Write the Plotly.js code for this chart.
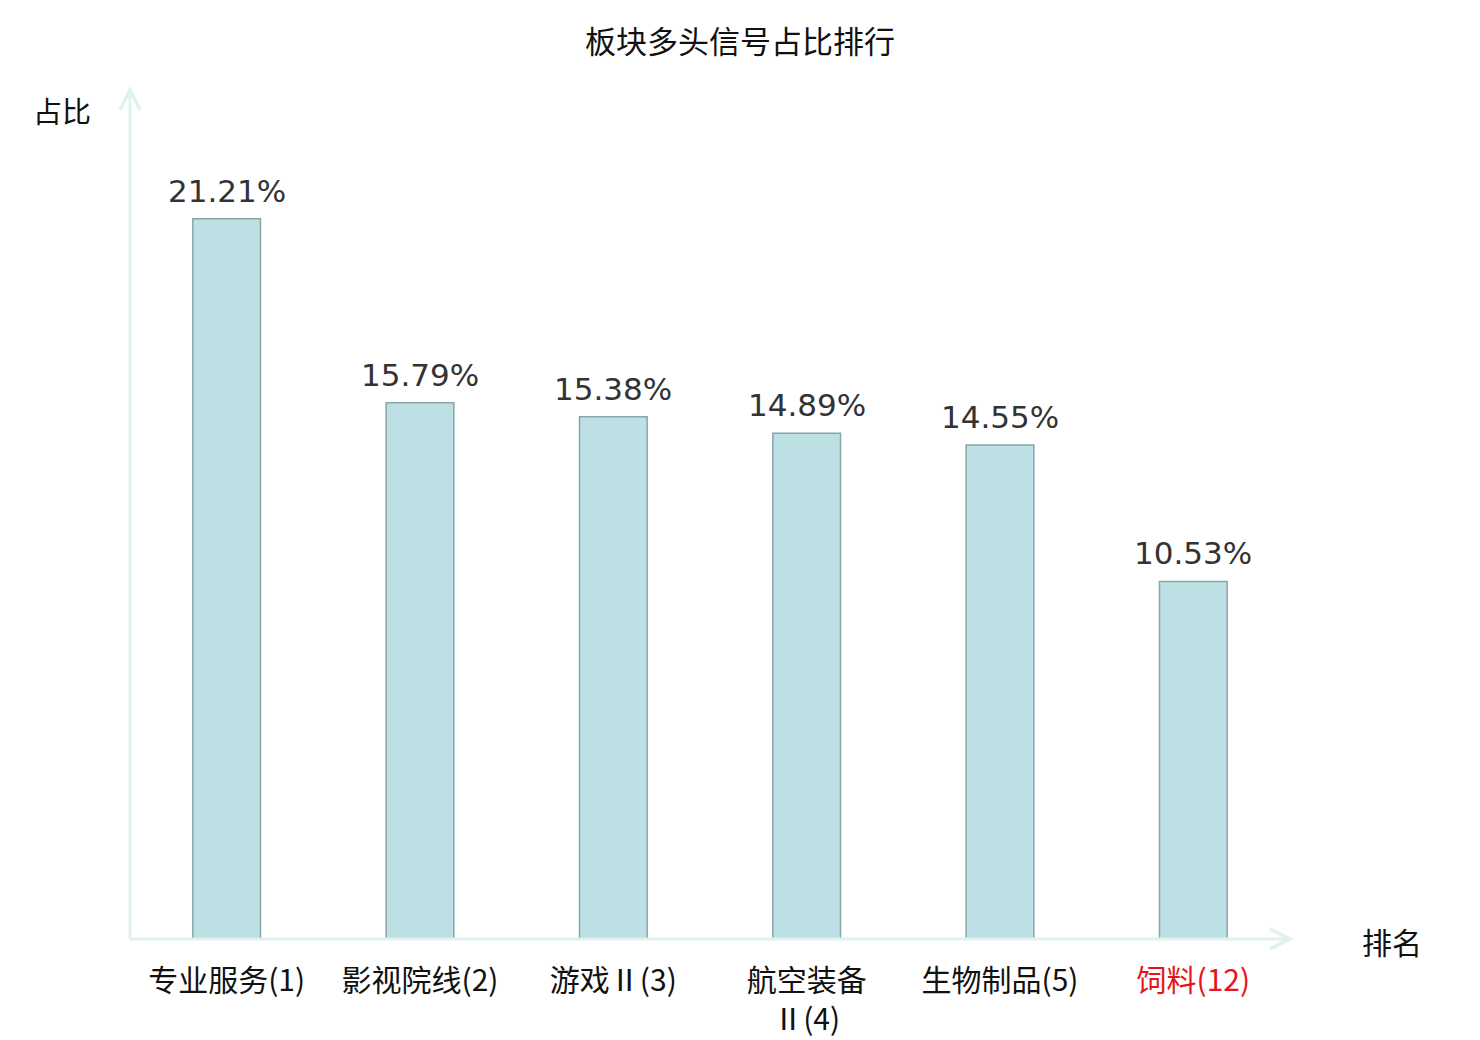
<!DOCTYPE html>
<html>
<head>
<meta charset="utf-8">
<script src="https://cdn.plot.ly/plotly-3.0.1.min.js"></script>
<style>
  html, body { margin: 0; padding: 0; background: #fff; }
  #chart { width: 1480px; height: 1040px; }
</style>
</head>
<body>
<div id="chart"></div>
<script>
// 数据
var categories = ['专业服务(1)', '影视院线(2)', '游戏Ⅱ(3)', '航空装备Ⅱ(4)', '生物制品(5)', '饲料(12)'];
var tickLabels = ['专业服务(1)', '影视院线(2)', '游戏Ⅱ(3)', '航空装备<br>Ⅱ(4)', '生物制品(5)', '<span style="color:#e8141b">饲料(12)</span>'];
var values = [21.21, 15.79, 15.38, 14.89, 14.55, 10.53];
var valueLabels = ['21.21%', '15.79%', '15.38%', '14.89%', '14.55%', '10.53%'];

var cjk = '"Noto Sans CJK SC", "DejaVu Sans", sans-serif';
var axisColor = '#dff2ef';

var bars = {
  x: categories,
  y: values,
  type: 'bar',
  marker: {
    color: '#bce0e3',
    line: { color: '#88a6a8', width: 1.5 }
  },
  hoverinfo: 'none'
};

// 数值标签
var annotations = [];
for (var i = 0; i < categories.length; i++) {
  annotations.push({
    x: categories[i],
    y: values[i],
    xref: 'x', yref: 'y',
    text: valueLabels[i],
    showarrow: false,
    yanchor: 'bottom',
    yshift: 8,
    font: { family: '"DejaVu Sans", sans-serif', size: 31, color: '#333333' }
  });
}
// 坐标轴名称
annotations.push({
  xref: 'paper', yref: 'paper', x: 0, y: 1,
  xanchor: 'right', yanchor: 'middle', xshift: -37, yshift: -20,
  text: '占比', showarrow: false,
  font: { family: cjk, size: 29, color: '#111' }
});
annotations.push({
  xref: 'paper', yref: 'paper', x: 1, y: 0,
  xanchor: 'left', yanchor: 'middle', xshift: 70, yshift: -2,
  text: '排名', showarrow: false,
  font: { family: cjk, size: 30, color: '#111' }
});

// 坐标轴箭头
var shapes = [
  { type: 'line', xref: 'paper', yref: 'paper', x0: 0, y0: 0, x1: 1, y1: 0,
    line: { color: axisColor, width: 3 } },
  { type: 'line', xref: 'paper', yref: 'paper', x0: 0, y0: 0, x1: 0, y1: 1,
    line: { color: axisColor, width: 3 } },
  { type: 'path', xref: 'paper', yref: 'paper', xsizemode: 'pixel', ysizemode: 'pixel',
    xanchor: 1, yanchor: 0, path: 'M-20,10 L0,0 L-20,-10',
    line: { color: axisColor, width: 3.5 } },
  { type: 'path', xref: 'paper', yref: 'paper', xsizemode: 'pixel', ysizemode: 'pixel',
    xanchor: 0, yanchor: 1, path: 'M-10,-20 L0,0 L10,-20',
    line: { color: axisColor, width: 3.5 } }
];

var layout = {
  width: 1480,
  height: 1040,
  margin: { l: 130, r: 190, t: 90, b: 101 },
  paper_bgcolor: '#ffffff',
  plot_bgcolor: '#ffffff',
  title: {
    text: '板块多头信号占比排行',
    x: 0.5, xref: 'container', xanchor: 'center',
    y: 1, yref: 'container', yanchor: 'top', pad: { t: 31 },
    font: { family: cjk, size: 31, color: '#111' }
  },
  bargap: 0.65,
  showlegend: false,
  xaxis: {
    tickmode: 'array',
    tickvals: categories,
    ticktext: tickLabels,
    showline: false,
    showgrid: false,
    zeroline: false,
    ticks: '',
    tickfont: { family: cjk, size: 30, color: '#111' },
    ticklabelstandoff: 21
  },
  yaxis: {
    range: [0, 25],
    showticklabels: false,
    showgrid: false,
    showline: false,
    zeroline: false,
    ticks: ''
  },
  annotations: annotations,
  shapes: shapes
};

Plotly.newPlot('chart', [bars], layout, { displayModeBar: false, staticPlot: true });
</script>
</body>
</html>
